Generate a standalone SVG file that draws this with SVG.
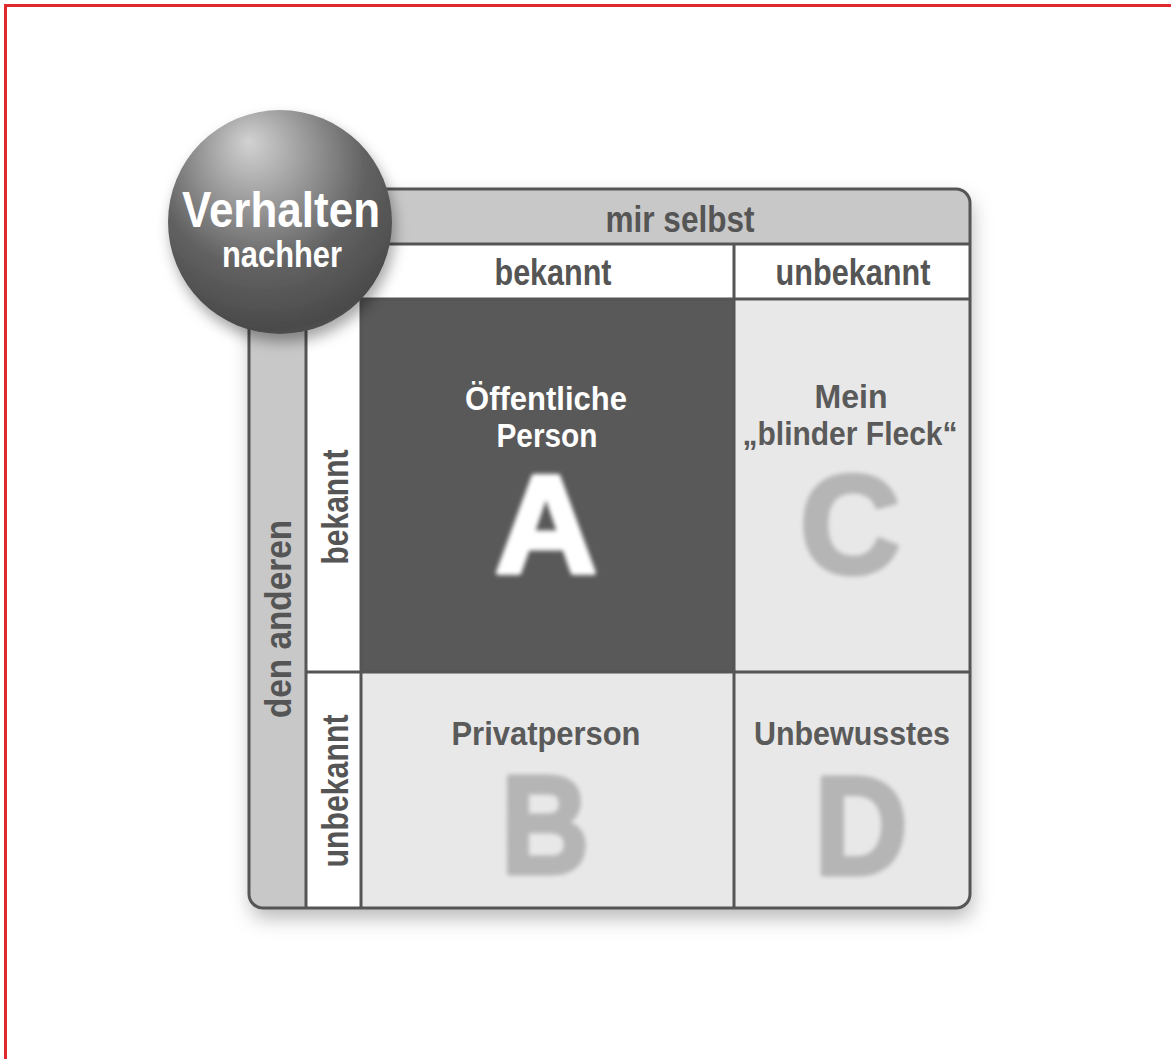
<svg xmlns="http://www.w3.org/2000/svg" width="1171" height="1059" viewBox="0 0 1171 1059">
  <defs>
    <style>
      .lbl { font-family: "Liberation Sans", Arial, sans-serif; font-weight: bold; text-anchor: middle; }
      .hdr { font-size: 37px; fill: #555555; }
      .cell { font-size: 34px; fill: #5a5a5a; }
      .white { fill: #ffffff; }
      .big { font-size: 140px; stroke-width: 5; stroke-linejoin: round; }
      .grid { stroke: #555555; stroke-width: 3; fill: none; }
    </style>
    <radialGradient id="sphereGrad" cx="0.45" cy="0.3" r="0.75" fx="0.36" fy="0.14">
      <stop offset="0" stop-color="#d2d2d2"/>
      <stop offset="0.3" stop-color="#9c9c9c"/>
      <stop offset="0.62" stop-color="#626262"/>
      <stop offset="0.92" stop-color="#4a4a4a"/>
      <stop offset="1" stop-color="#555555"/>
    </radialGradient>
    <filter id="frameShadow" x="-10%" y="-10%" width="125%" height="125%">
      <feDropShadow dx="2" dy="10" stdDeviation="10" flood-color="#000000" flood-opacity="0.28"/>
    </filter>
    <filter id="sphereShadow" x="-20%" y="-20%" width="150%" height="150%">
      <feDropShadow dx="3" dy="8" stdDeviation="7" flood-color="#000000" flood-opacity="0.35"/>
    </filter>
    <filter id="blur" x="-20%" y="-20%" width="140%" height="140%">
      <feGaussianBlur stdDeviation="2.2"/>
    </filter>
    <clipPath id="frameClip">
      <rect x="249" y="189" width="721" height="719" rx="14"/>
    </clipPath>
  </defs>

  <rect x="0" y="0" width="1171" height="1059" fill="#ffffff"/>
  <rect id="border" x="5.5" y="5.5" width="1200" height="1100" fill="none" stroke="#e0282f" stroke-width="3"/>

  <g id="frame">
    <rect x="249" y="189" width="721" height="719" rx="14" fill="#e8e8e8" filter="url(#frameShadow)"/>
    <g clip-path="url(#frameClip)">
      <rect x="249" y="189" width="721" height="55" fill="#c8c8c8"/>
      <rect x="249" y="189" width="57" height="719" fill="#c8c8c8"/>
      <rect x="306" y="244" width="664" height="55" fill="#ffffff"/>
      <rect x="306" y="244" width="55" height="664" fill="#ffffff"/>
    </g>
  </g>

  <g id="cell-A">
    <rect x="361" y="299" width="373" height="373" fill="#595959"/>
    <text class="lbl cell white" x="546" y="410" textLength="162" lengthAdjust="spacingAndGlyphs">Öffentliche</text>
    <text class="lbl cell white" x="547" y="447" textLength="101" lengthAdjust="spacingAndGlyphs">Person</text>
    <text class="lbl big" x="546" y="573" fill="#ffffff" stroke="#ffffff" textLength="102" lengthAdjust="spacingAndGlyphs" filter="url(#blur)">A</text>
  </g>

  <g id="cell-C">
    <text class="lbl cell" x="851" y="408" textLength="73" lengthAdjust="spacingAndGlyphs">Mein</text>
    <text class="lbl cell" x="850" y="445" textLength="215" lengthAdjust="spacingAndGlyphs">„blinder Fleck“</text>
    <text class="lbl big" x="850" y="573" fill="#b5b5b5" stroke="#b5b5b5" textLength="100" lengthAdjust="spacingAndGlyphs" filter="url(#blur)">C</text>
  </g>

  <g id="cell-B">
    <text class="lbl cell" x="546" y="745" textLength="189" lengthAdjust="spacingAndGlyphs">Privatperson</text>
    <text class="lbl big" x="545" y="873" fill="#b5b5b5" stroke="#b5b5b5" textLength="88" lengthAdjust="spacingAndGlyphs" filter="url(#blur)">B</text>
  </g>

  <g id="cell-D">
    <text class="lbl cell" x="852" y="745" textLength="196" lengthAdjust="spacingAndGlyphs">Unbewusstes</text>
    <text class="lbl big" x="861" y="874" fill="#b5b5b5" stroke="#b5b5b5" textLength="93" lengthAdjust="spacingAndGlyphs" filter="url(#blur)">D</text>
  </g>

  <g id="connectors">
    <line class="grid" x1="306" y1="244" x2="970" y2="244"/>
    <line class="grid" x1="306" y1="299" x2="970" y2="299"/>
    <line class="grid" x1="306" y1="672" x2="970" y2="672"/>
    <line class="grid" x1="306" y1="244" x2="306" y2="908"/>
    <line class="grid" x1="361" y1="244" x2="361" y2="908"/>
    <line class="grid" x1="734" y1="244" x2="734" y2="908"/>
    <rect class="grid" x="249" y="189" width="721" height="719" rx="14"/>
  </g>

  <g id="header-mir-selbst">
    <text class="lbl hdr" x="680" y="232" textLength="149" lengthAdjust="spacingAndGlyphs">mir selbst</text>
  </g>
  <g id="header-bekannt">
    <text class="lbl hdr" x="553" y="285" textLength="117" lengthAdjust="spacingAndGlyphs">bekannt</text>
  </g>
  <g id="header-unbekannt">
    <text class="lbl hdr" x="853" y="285" textLength="155" lengthAdjust="spacingAndGlyphs">unbekannt</text>
  </g>
  <g id="side-den-anderen">
    <text class="lbl hdr" transform="translate(291,619) rotate(-90)" textLength="198" lengthAdjust="spacingAndGlyphs">den anderen</text>
  </g>
  <g id="side-bekannt">
    <text class="lbl hdr" transform="translate(348,507) rotate(-90)" textLength="115" lengthAdjust="spacingAndGlyphs">bekannt</text>
  </g>
  <g id="side-unbekannt">
    <text class="lbl hdr" transform="translate(348,791) rotate(-90)" textLength="153" lengthAdjust="spacingAndGlyphs">unbekannt</text>
  </g>

  <g id="sphere">
    <circle cx="280" cy="222" r="112" fill="url(#sphereGrad)" filter="url(#sphereShadow)"/>
    <text class="lbl white" x="281" y="227" font-size="50" textLength="198" lengthAdjust="spacingAndGlyphs">Verhalten</text>
    <text class="lbl white" x="282" y="267" font-size="36" textLength="120" lengthAdjust="spacingAndGlyphs">nachher</text>
  </g>
</svg>
